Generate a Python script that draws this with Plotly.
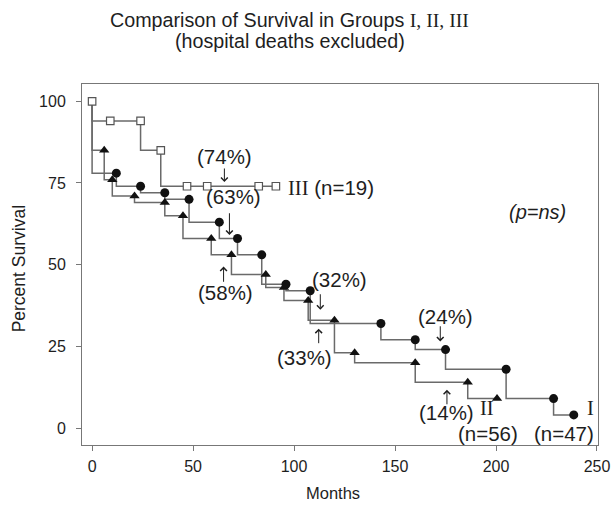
import plotly.graph_objects as go

# ---- data ----
# Group I (filled circles): step curve and event markers
g1_time = [0, 0, 12, 24, 36, 48, 63, 72, 84, 96, 108, 143, 160, 175, 205, 228.5, 238.5]
g1_surv = [100, 78, 74, 72, 70, 63, 58, 53, 44, 42, 32, 27, 24, 18, 9, 4, 4]
g1_mark_time = [12, 24, 36, 48, 63, 72, 84, 96, 108, 143, 160, 175, 205, 228.5, 238.5]
g1_mark_surv = [78, 74, 72, 70, 63, 58, 53, 44, 42, 32, 27, 24, 18, 9, 4]

# Group II (filled triangles)
g2_time = [0, 0, 6, 10, 21, 36, 45, 59, 69, 86, 95, 107, 120, 130, 160, 186, 200.5]
g2_surv = [100, 85, 76, 71, 69, 65, 58, 53, 47, 43, 39, 33, 23, 20, 14, 9, 9]
g2_mark_time = [6, 10, 21, 36, 45, 59, 69, 86, 95, 107, 120, 130, 160, 186, 200.5]
g2_mark_surv = [85, 76, 71, 69, 65, 58, 53, 47, 43, 39, 33, 23, 20, 14, 9]

# Group III (open squares)
g3_time = [0, 0, 24, 34, 91]
g3_surv = [100, 94, 85, 74, 74]
g3_mark_time = [0, 9, 24, 34, 47, 57, 82.5, 91]
g3_mark_surv = [100, 94, 94, 85, 74, 74, 74, 74]

x_ticks = [0, 50, 100, 150, 200, 250]
y_ticks = [0, 25, 50, 75, 100]

SANS = "Liberation Sans, Arial, sans-serif"
SERIF = "Liberation Serif, Times New Roman, serif"
LINE = "#6a6a6a"
INK = "#1e1e1e"

fig = go.Figure()

for t, s in [(g1_time, g1_surv), (g2_time, g2_surv), (g3_time, g3_surv)]:
    fig.add_trace(go.Scatter(x=t, y=s, mode="lines", line=dict(shape="hv", color=LINE, width=1.5),
                             hoverinfo="skip", showlegend=False))

fig.add_trace(go.Scatter(x=g3_mark_time, y=g3_mark_surv, mode="markers",
                         marker=dict(symbol="square", size=7.5, color="white", line=dict(color="#555", width=1.2)),
                         showlegend=False))
fig.add_trace(go.Scatter(x=g2_mark_time, y=g2_mark_surv, mode="markers",
                         marker=dict(symbol="triangle-up", size=9, color="#111"),
                         showlegend=False))
fig.add_trace(go.Scatter(x=g1_mark_time, y=g1_mark_surv, mode="markers",
                         marker=dict(symbol="circle", size=9, color="#111"),
                         showlegend=False))

ann = []
FS = 20.5

def txt(x, y, s, size=FS, family=SANS, xanchor="center", yanchor="middle"):
    ann.append(dict(x=x, y=y, xref="x", yref="y", text=s, showarrow=False, borderpad=0,
                    font=dict(size=size, family=family, color=INK), xanchor=xanchor, yanchor=yanchor))

def arrow(x, y0, y1):
    # arrow from y0 (tail) to y1 (tip)
    ann.append(dict(x=x, y=y1, xref="x", yref="y", ax=x, ay=y0, axref="x", ayref="y", text="",
                    showarrow=True, arrowhead=4, arrowsize=1.3, arrowwidth=1, arrowcolor=INK))

txt(65.7, 83.1, "(74%)"); arrow(65.5, 79.9, 75.3)
txt(69.8, 70.8, "(63%)"); arrow(68.0, 66.2, 59.1)
txt(66.0, 41.5, "(58%)"); arrow(65.1, 44.3, 49.4)
txt(122.4, 45.4, "(32%)"); arrow(113.0, 41.4, 36.2)
txt(105.0, 21.5, "(33%)"); arrow(112.2, 25.5, 30.4)
txt(174.8, 34.1, "(24%)"); arrow(172.4, 31.6, 26.5)
txt(175.4, 4.6, "(14%)"); arrow(175.7, 6.8, 11.7)
txt(195.5, 2.4, "II", family=SERIF, yanchor="bottom")
txt(196.2, 2.0, "(n=56)", yanchor="top")
txt(246.7, 2.4, "I", family=SERIF, yanchor="bottom")
txt(233.6, 2.0, "(n=47)", yanchor="top")
txt(96.7, 73.7, "<span style=\"font-family:Liberation Serif,serif\">III</span> (n=19)", xanchor="left")
txt(220.7, 66.2, "<i>(p=ns)</i>", size=20)

ann.append(dict(x=0.403, y=1.176, xref="paper", yref="paper", showarrow=False,
                text="Comparison of Survival in Groups <span style=\"font-family:Liberation Serif,serif\">I, II, III</span>",
                font=dict(size=19.7, family=SANS, color=INK), xanchor="center", yanchor="middle"))
ann.append(dict(x=0.403, y=1.118, xref="paper", yref="paper", showarrow=False,
                text="(hospital deaths excluded)",
                font=dict(size=19.7, family=SANS, color=INK), xanchor="center", yanchor="middle"))
# axis titles
ann.append(dict(x=119.5, y=-0.133, xref="x", yref="paper", showarrow=False, text="Months",
                font=dict(size=16.5, family=SANS, color=INK), xanchor="center", yanchor="middle"))
ann.append(dict(x=-0.123, y=0.488, xref="paper", yref="paper", showarrow=False, text="Percent Survival",
                textangle=-90, font=dict(size=17.5, family=SANS, color=INK), xanchor="center", yanchor="middle"))

axis_common = dict(showline=True, mirror=True, linecolor="#777", linewidth=1, ticks="outside",
                   ticklen=5, tickcolor="#777", showgrid=False, zeroline=False, automargin=False,
                   tickfont=dict(size=16, family=SANS, color=INK))

fig.update_layout(
    width=612, height=507, autosize=False,
    margin=dict(l=82, r=14, t=84, b=62),
    paper_bgcolor="white", plot_bgcolor="white",
    showlegend=False,
    annotations=ann,
    xaxis=dict(range=[-5, 250.5], tickvals=x_ticks, ticktext=[str(v) for v in x_ticks],
               ticklabelstandoff=2, **axis_common),
    yaxis=dict(range=[-5.2, 105.3], tickvals=y_ticks, ticktext=[str(v) for v in y_ticks],
               ticklabelstandoff=7, **axis_common),
)

fig.write_html("out.html")
